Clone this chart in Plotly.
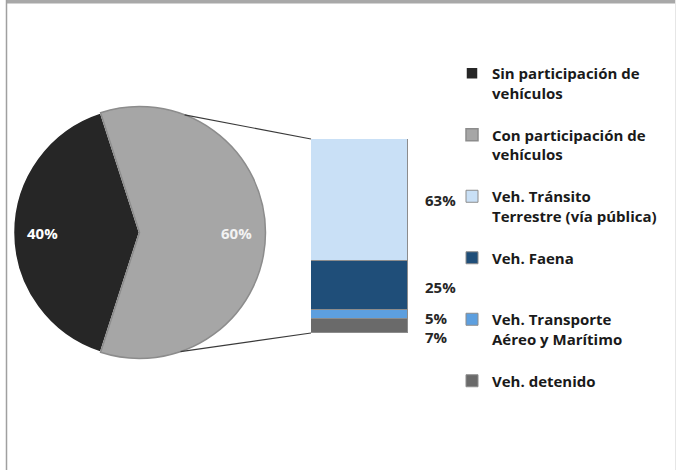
import plotly.graph_objects as go
import math

# ---------------- data ----------------
pie_categories = ["Sin participación de vehículos", "Con participación de vehículos"]
pie_values = [40, 60]

bar_categories = ["Veh. Tránsito Terrestre (vía pública)", "Veh. Faena",
                  "Veh. Transporte Aéreo y Marítimo", "Veh. detenido"]
bar_values = [63, 25, 5, 7]

# legend wrapping (display only)
pie_legend_text = ["Sin participación de<br>vehículos<br> ", "Con participación de<br>vehículos<br> "]
bar_legend_text = ["Veh. Tránsito<br>Terrestre (vía pública)<br> ", "Veh. Faena<br> <br> ",
                   "Veh. Transporte<br>Aéreo y Marítimo<br> ", "Veh. detenido"]

# ---------------- styles / layout ----------------
W, H = 676, 470
FONT = "Open Sans"
pie_colors = ["#262626", "#a6a6a6"]
pie_text_colors = ["#ffffff", "#f2f2f2"]
bar_colors = ["#c9e0f6", "#1f4e79", "#5d9fdf", "#6a6a6a"]

pie_cx, pie_cy, pie_r = 139.5, 232.5, 126.0          # pixels
bar_left, bar_right, bar_top, bar_bottom = 311, 408, 139, 333  # pixels
PIE_START = 108.0   # math angle (deg) where first slice starts, going counterclockwise


def px(x):
    return x / W


def py(y):
    return 1 - y / H


fig = go.Figure()

fig.add_trace(go.Pie(
    labels=pie_legend_text,
    values=pie_values,
    sort=False,
    direction="counterclockwise",
    rotation=(90 - PIE_START - pie_values[0] / sum(pie_values) * 360) % 360,
    textinfo="none",
    marker=dict(colors=pie_colors, line=dict(color=["#ffffff", "#8c8c8c"], width=1.5)),
    domain=dict(x=[px(pie_cx - pie_r), px(pie_cx + pie_r)],
                y=[py(pie_cy + pie_r), py(pie_cy - pie_r)]),
    legendrank=1,
    hovertext=pie_categories,
    hoverinfo="text+percent",
))

# pie labels placed at slice mid-angles
acc = 0
tot = sum(pie_values)
for v, c in zip(pie_values, pie_text_colors):
    mid = math.radians(PIE_START + (acc + v / 2) / tot * 360)
    acc += v
    lx = pie_cx + 0.77 * pie_r * math.cos(mid)
    ly = pie_cy - 0.77 * pie_r * math.sin(mid)
    fig.add_annotation(x=px(lx), y=py(ly), xref="paper", yref="paper",
                       text=f"{v}%", showarrow=False, xanchor="center", yanchor="middle",
                       font=dict(family=FONT, size=15, weight="bold", color=c))

# stack bottom-up: reverse order
for i in reversed(range(len(bar_values))):
    fig.add_trace(go.Bar(
        x=[0], y=[bar_values[i]],
        name=bar_legend_text[i],
        marker=dict(color=bar_colors[i], line=dict(color="#8c8c8c", width=1)),
        width=1,
        legendrank=2 + i,
        hovertemplate=bar_categories[i] + ": %{y}%<extra></extra>",
    ))

# bar value labels
label_shift = [0, -2, -3, -11]
cum = 0
mids = {}
for i in reversed(range(len(bar_values))):
    mids[i] = cum + bar_values[i] / 2
    cum += bar_values[i]
for i in range(len(bar_values)):
    fig.add_annotation(
        x=0.5, y=mids[i], xref="x", yref="y",
        text=f"{bar_values[i]}%", showarrow=False,
        xanchor="left", yanchor="middle", xshift=15, yshift=label_shift[i],
        font=dict(family=FONT, size=15, weight="bold", color="#262626"),
    )

# connector lines from pie edge to bar corners
ang_top, ang_bot = math.radians(69), math.radians(-71)
for ang, by in [(ang_top, bar_top), (ang_bot, bar_bottom)]:
    x0 = pie_cx + pie_r * math.cos(ang)
    y0 = pie_cy - pie_r * math.sin(ang)
    fig.add_shape(type="line", xref="paper", yref="paper",
                  x0=px(x0), y0=py(y0), x1=px(bar_left), y1=py(by),
                  line=dict(color="#3a3a3a", width=1.2))

# frame decorations
fig.add_shape(type="rect", xref="paper", yref="paper", x0=px(6), x1=1, y0=py(3.5), y1=1,
              fillcolor="#a8a8a8", line=dict(width=0), layer="above")
fig.add_shape(type="line", xref="paper", yref="paper", x0=px(6.5), x1=px(6.5), y0=0, y1=1,
              line=dict(color="#a0a0a0", width=1.5))
fig.add_shape(type="line", xref="paper", yref="paper", x0=px(675.5), x1=px(675.5), y0=0, y1=1,
              line=dict(color="#e6e6e6", width=1))

fig.update_layout(
    width=W, height=H,
    margin=dict(l=0, r=0, t=0, b=0),
    paper_bgcolor="white", plot_bgcolor="white",
    barmode="stack",
    bargap=0,
    showlegend=True,
    xaxis=dict(domain=[px(bar_left), px(bar_right)], range=[-0.5, 0.5],
               visible=False, fixedrange=True),
    yaxis=dict(domain=[py(bar_bottom), py(bar_top)], range=[0, sum(bar_values)],
               visible=False, fixedrange=True),
    legend=dict(
        x=px(452), y=py(57), xanchor="left", yanchor="top",
        font=dict(family=FONT, size=15, weight="bold", color="#1a1a1a"),
        valign="top", traceorder="normal", itemwidth=30,
        bgcolor="rgba(0,0,0,0)",
    ),
    font=dict(family=FONT),
)

fig.write_html("out.html",
               config={"displayModeBar": False},
               post_script="document.body.style.margin='0px';document.body.style.overflow='hidden';")
